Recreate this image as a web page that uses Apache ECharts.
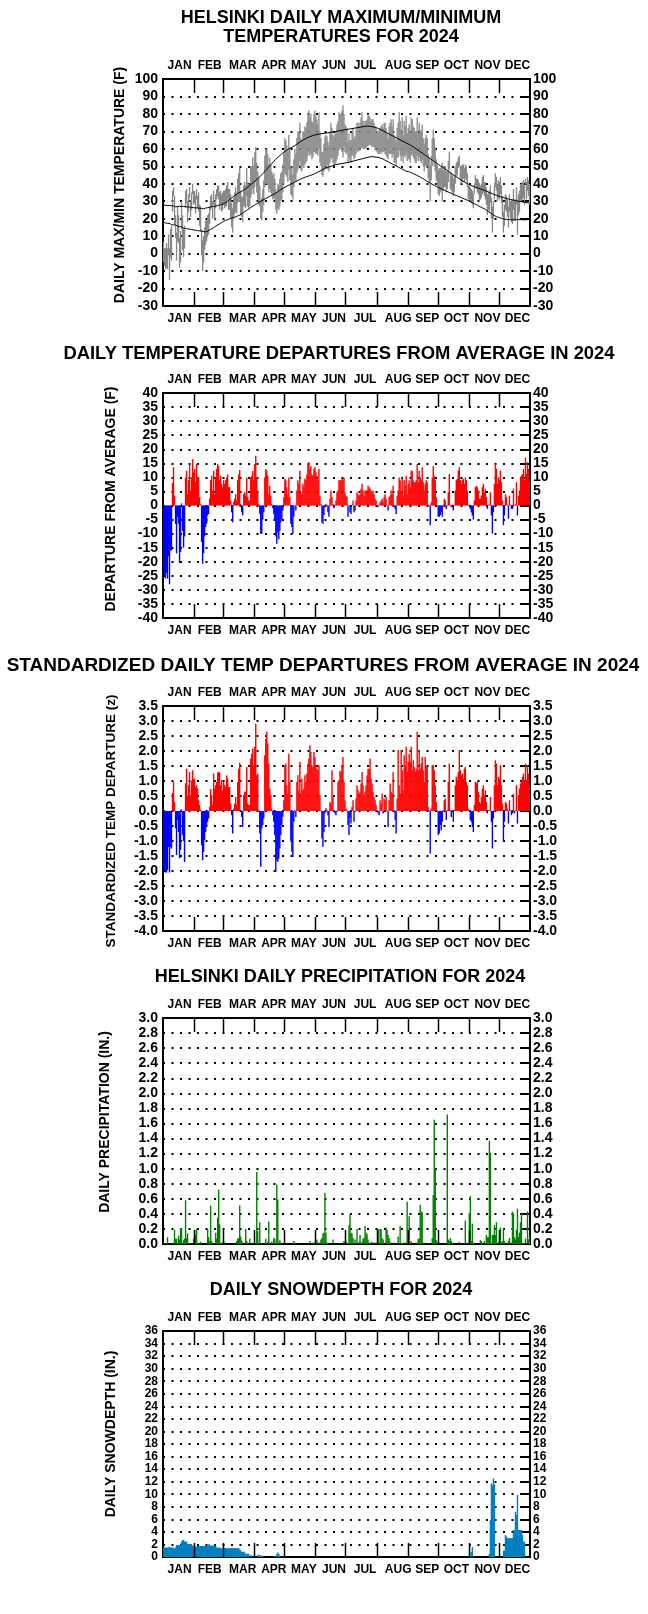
<!DOCTYPE html>
<html><head><meta charset="utf-8">
<script src="https://cdn.jsdelivr.net/npm/echarts@6/dist/echarts.min.js"></script>
<style>html,body{margin:0;padding:0;background:#fff}#c{width:648px;height:1614px}</style>
</head><body><div id="c"></div>
<script>
// ---------- DATA ----------
const monthNames = ['JAN','FEB','MAR','APR','MAY','JUN','JUL','AUG','SEP','OCT','NOV','DEC'];
const monthStart = [0,31,60,91,121,152,182,213,244,274,305,335];
const monthLabelDay = [16,46,79,110,140,170,201,234,263,292,323,353];

const normMax = [
28,27.8,27.6,27.9,27.5,27.3,27.6,27.2,27.4,27,27.3,27.1,26.8,27.2,27,26.9,27.1,26.7,27,26.8,27,26.6,26.9,26.5,26.7,26.4,26.6,26.2,26.5,26.1,26.3,
26,26.2,25.9,26.1,25.8,26,25.7,25.9,26,25.6,26,26.1,25.8,26.3,26.2,26.5,26.4,26.8,26.6,27,26.9,27.2,27.1,27.5,27.4,27.8,27.7,28.1,28.3,
28.6,28.9,29.2,29.6,30.1,30.5,31,31.4,31.9,32.3,32.8,33.2,33.6,34,34.5,34.8,35.1,35.4,35.7,36,36.4,36.8,37.2,37.6,38.1,38.6,39,39.5,40,40.4,40.9,
41.4,41.9,42.4,42.9,43.4,44,44.6,45.2,45.8,46.4,47,47.7,48.4,49,49.7,50.3,51,51.6,52.2,52.9,53.5,54,54.6,55.1,55.6,56.1,56.6,57.1,57.6,58.1,
58.5,58.9,59.3,59.7,60,60.3,60.6,60.9,61.2,61.5,61.9,62.3,62.7,63.1,63.5,63.9,64.3,64.7,65,65.3,65.6,65.9,66.2,66.5,66.8,67,67.2,67.4,67.6,67.8,68,
68.1,68.2,68.3,68.4,68.5,68.6,68.7,68.8,68.9,69,69,69.1,69.2,69.3,69.4,69.5,69.6,69.7,69.8,69.9,70,70.1,70.2,70.3,70.4,70.5,70.6,70.7,70.8,70.9,
71,71.1,71.2,71.3,71.4,71.5,71.6,71.7,71.8,71.9,72,72.1,72.2,72.3,72.4,72.5,72.6,72.7,72.8,72.9,73,73,73,72.9,72.9,72.8,72.7,72.6,72.5,72.4,72.2,
72,71.8,71.5,71.2,70.9,70.6,70.3,70,69.7,69.4,69.1,68.8,68.5,68.2,67.9,67.6,67.3,67,66.7,66.4,66.1,65.8,65.5,65.2,64.9,64.6,64.3,64,63.7,63.4,63.1,
62.8,62.5,62.2,61.9,61.5,61.2,60.8,60.4,60,59.6,59.2,58.8,58.4,58,57.6,57.2,56.8,56.4,56,55.6,55.2,54.8,54.4,54,53.6,53.2,52.8,52.4,52,51.6,
51.2,50.8,50.4,50,49.6,49.2,48.8,48.4,48,47.6,47.2,46.8,46.4,46,45.6,45.2,44.8,44.4,44,43.6,43.2,42.8,42.4,42,41.6,41.3,41,40.7,40.4,40.1,39.8,
39.5,39.2,38.9,38.7,38.5,38.3,38.1,37.9,37.7,37.5,37.3,37.1,36.9,36.7,36.5,36.3,36.1,35.8,35.6,35.3,35.1,34.8,34.6,34.3,34.1,33.8,33.6,33.4,33.2,33,
32.8,32.6,32.4,32.3,32.1,31.9,31.8,31.6,31.5,31.3,31.2,31,30.9,30.8,30.6,30.5,30.4,30.3,30.2,30,29.9,29.8,29.7,29.6,29.5,29.4,29.3,29.2,29.1,29,28.9];

const normMin = [
18.3,18,17.6,17.9,17.2,17,17.3,16.8,16.6,16.9,16.4,16.1,16.5,15.9,15.7,16,15.4,15.2,15.5,14.9,14.5,14.8,14.4,14.6,14.2,14.4,14,14.3,13.8,14.1,13.5,
13.8,13.4,13.6,13.2,13.5,13,13.3,12.9,13.1,12.6,11.6,12.5,13,12.8,13.3,13.6,13.9,14.2,14.5,14.9,15.3,15.7,16.1,16.4,16.8,17.1,17.5,17.8,18.2,
18.5,18.8,19,19.3,19.5,19.7,19.9,20.1,20.3,20.5,20.7,20.9,21.1,21.4,21.6,21.8,22,22.4,22.8,23.2,23.6,24,24.4,24.8,25.2,25.6,26,26.4,26.8,27.1,27.5,
27.9,28.2,28.6,28.9,29.3,29.6,30,30.3,30.7,31,31.3,31.6,31.9,32.2,32.5,32.8,33.1,33.4,33.6,33.9,34.3,34.7,35.1,35.5,35.9,36.3,36.7,37,37.4,37.7,
38,38.3,38.6,38.9,39.2,39.5,39.8,40.1,40.4,40.7,41,41.3,41.6,41.9,42.2,42.5,42.8,43.1,43.3,43.5,43.7,43.9,44.1,44.3,44.5,44.7,44.9,45.1,45.3,45.5,45.8,
46.1,46.4,46.7,47,47.3,47.6,47.9,48.2,48.5,48.8,49,49.2,49.4,49.6,49.8,50,50.2,50.4,50.6,50.8,51,51.1,51.2,51.3,51.4,51.5,51.6,51.7,51.8,51.9,
52,52.1,52.2,52.4,52.5,52.7,52.8,53,53.1,53.3,53.4,53.6,53.7,53.9,54,54.2,54.3,54.5,54.6,54.8,54.9,55.1,55.2,55.3,55.4,55.5,55.5,55.5,55.4,55.4,55.3,
55.2,55.1,55,54.8,54.6,54.4,54.1,53.8,53.5,53.2,52.9,52.6,52.3,52,51.7,51.4,51.1,50.8,50.5,50.2,49.9,49.6,49.3,49,48.7,48.4,48.1,47.8,47.5,47.2,46.9,
47,46.8,46.6,46.3,46.1,45.8,45.6,45.3,45,44.7,44.4,44.1,43.8,43.5,43.2,42.8,42.5,42.1,41.8,41.4,41.1,40.7,40.4,40,39.7,39.4,39.1,38.8,38.5,38.2,
37.9,37.6,37.4,37.1,36.8,36.6,36.3,36,35.8,35.5,35.3,35,34.8,34.5,34.3,34,33.8,33.5,33.3,33,32.8,32.5,32.3,32,31.8,31.5,31.3,31,30.8,30.6,30.4,
30.1,29.8,29.5,29.2,28.9,28.6,28.3,28,27.7,27.4,27.1,26.8,26.5,26.2,26,25.7,25.3,24.9,24.5,24.1,23.7,23.3,22.9,22.5,22.1,21.8,21.5,21.2,21,20.8,
20.6,20.4,20.2,20,19.9,19.8,19.7,19.6,19.5,19.5,19.4,19.4,19.4,19.3,19.3,19.3,19.4,19.4,19.4,19.5,19.5,19.5,19.4,19.4,19.3,19.3,19.4,19.4,19.5,19.5,19.4];

const tMax = [
7,3,3,6,3,11,3,14,16,36,38,33,22,12,27,22,9,13,30,22,14,16,36,37,30,34,38,31,35,40,36,
36,33,37,33,35,28,27,14,8,10,15,19,19,22,23,27,33,34,30,36,29,34,37,39,39,35,36,34,35,
36,36,37,39,41,37,37,34,29,26,32,35,38,35,43,46,49,36,33,32,39,41,39,49,41,40,39,50,50,55,50,
58,61,52,47,44,39,31,32,37,42,56,60,60,57,51,55,51,47,45,46,43,37,35,40,39,43,46,47,51,58,
66,65,62,59,68,60,50,49,45,54,60,57,66,70,70,75,66,65,70,70,73,72,75,80,82,78,80,76,75,80,82,
79,77,74,81,70,66,58,58,63,67,68,67,64,62,70,75,72,68,67,69,70,74,76,81,80,80,82,85,80,74,
73,72,64,69,65,65,70,72,66,67,71,75,75,73,75,78,81,76,74,76,76,77,80,79,78,76,77,77,75,73,72,
70,69,71,72,73,74,72,75,75,72,69,66,73,75,77,73,77,68,66,64,72,75,81,76,71,78,68,76,73,79,69,
72,74,70,78,77,73,72,70,70,78,69,75,71,70,74,66,63,66,68,66,57,55,50,56,66,71,66,61,54,51,
48,49,49,50,52,48,50,50,47,47,53,58,47,46,45,43,45,50,52,53,55,56,50,50,51,51,49,51,50,46,39,
39,38,37,36,34,40,45,43,43,42,40,39,40,44,45,41,41,38,34,35,36,39,32,27,30,39,46,44,40,42,
41,44,39,33,24,28,34,33,31,27,34,30,30,31,37,31,31,38,31,34,36,40,40,41,42,39,43,41,44,42,40];

const tMin = [
-5,-7,-9,-8,-9,-1,-15,-2,-4,24,33,17,9,-4,7,6,-8,-5,14,2,-2,3,26,29,18,24,32,21,25,34,28,
29,23,31,26,24,16,13,-1,-10,-5,2,5,7,10,11,17,25,27,20,28,19,26,31,33,31,25,28,24,25,
28,26,27,27,31,25,25,20,15,12,20,23,24,23,29,30,31,22,21,18,27,27,26,33,27,26,27,32,34,37,34,
38,41,35,31,28,27,20,19,24,28,38,40,40,39,35,37,35,33,31,32,31,25,23,26,25,27,30,31,35,40,
46,45,44,41,48,42,34,33,31,38,42,41,46,48,50,53,48,47,50,49,51,52,53,56,58,56,57,54,55,58,58,
57,57,56,60,52,50,45,44,47,49,50,51,48,47,52,55,54,52,50,51,52,54,56,59,60,60,58,55,61,58,
57,58,52,55,53,52,56,56,54,55,57,59,58,59,59,60,61,60,60,60,60,61,62,62,62,62,61,61,61,59,60,
58,57,57,58,57,58,58,59,57,56,55,54,57,57,57,55,57,52,52,50,55,55,59,56,53,56,52,56,55,57,53,
54,54,52,56,57,55,54,52,52,56,53,55,53,52,54,50,47,50,50,50,43,41,30,42,50,53,50,47,42,39,
34,33,35,36,30,36,38,38,35,37,41,48,37,36,35,33,35,40,44,45,49,50,42,40,41,43,41,43,42,38,31,
31,30,29,28,26,34,39,37,35,34,30,31,32,34,35,33,31,28,22,25,24,29,20,12,20,31,38,36,30,32,
31,34,29,21,12,16,25,24,21,15,24,20,18,17,25,19,19,28,11,22,24,30,30,31,32,28,40,31,36,33,28];

const departure = [
-22,-25,-26,-24,-26,-18,-28,-16,-16,8,13.6,3.5,-6.5,-17,-4,-6.5,-20.5,-16.5,0.8,-9,-15,-11,10,12.4,4,9,14.8,5.3,10,16.5,11.8,
13,8.3,14.8,10,10,3,0.5,-13,-20.7,-17,-11,-7.7,-6.5,-3.5,-3,2.4,9,10.6,5.3,12.4,4,10,13,14.8,14,9,10.6,7.7,6.5,
9,7.7,9,10,11,6.5,6.5,1.8,-2.4,-6,1.2,2.4,4,1.8,9,11,12.6,0.5,-2.4,-3.5,4,4.7,3.5,10,3,1.8,1.8,10,10.6,12.4,9,
14.8,17.7,10,5.3,0.5,-3,-10,-10,-5,-2.4,10,13,12.4,10.6,4,7,3.5,0.5,-1,-3,-5,-11,-13.6,-9.5,-12,-9,-6,-5,-1.8,3,
9.5,9,6.5,4,10,3,-6.5,-7.7,-10,-4,0.3,-1.8,5.3,9,7.7,12.4,4.7,4,7.7,6.5,9.5,9,11,14.8,15.4,13,14,11,10.6,13,13.6,
11.8,10.6,9,13,3.5,0.5,-6,-6.5,-3.5,-0.6,0.6,0.3,-2.4,-4,2.4,5.3,3,0.5,-1,0.3,1.8,4.7,5.3,9,9,9,9.5,9,10,4.7,
3.5,3,-4,0.3,-2.4,-3,0.3,1.8,-2.4,-1.8,1.8,4.7,4,3.5,4,6,7.7,5.3,3.5,5.3,5.3,5.3,7,6.5,6,5.3,4.7,5.3,4,2.4,1.8,
0.3,-0.6,0.3,1.2,1.8,2.4,1.2,3,4,2.4,0.3,-1.8,3,3.5,5.3,4,7,0.3,-1.2,-3,3.5,5.3,10,9,5.3,10,3.5,9,7,10.6,4,
7.7,9,6.5,12.4,12.4,9,8.3,8.3,9,14.8,8.3,12.4,10,9,13.6,8.3,5.3,7.7,9,8.3,0.3,0.3,-7,1.2,10,14,10.6,9,3,0.3,
-4,-4,-3.5,-2.4,-4,0.3,2.4,1.8,-1.2,0.3,4.7,11.2,0.3,-0.6,0.3,-1.8,0.3,5.3,9,9.5,12.4,13.6,9,7.7,9,9.5,7.7,10,9,5.3,0.3,
0.3,-1.2,-2.4,-3.5,-5,1.8,6.5,7,6.5,5.3,2.4,2.4,3.5,6.5,7.7,4.7,6,3,-1.2,0.3,0.3,4.7,-3.5,-10,-2.4,7.7,14.8,13,7.7,10,
9,12.4,8.3,1.8,-7,-3.5,4,3,0.3,-4.7,3.5,0.3,-1.2,-1.2,6,0.3,0.3,8.3,-3.5,3.5,5.3,10,10.6,11.2,13,9,17,11.2,15.4,13,9];

const zDeparture = [
-1.9,-2,-2.05,-2.05,-1.97,-1.2,-2.05,-1.2,-1.25,0.6,0.97,0.3,-0.58,-1.47,-0.3,-0.7,-1.58,-1.3,0.06,-0.8,-1,-1.7,0.92,1.41,0.5,0.86,1.3,0.5,1,1.36,1.05,
1.08,0.8,0.86,0.75,0.36,0.2,0.05,-1.14,-1.64,-1.36,-0.97,-0.7,-0.47,-0.36,-0.25,0.14,0.73,0.53,0.2,1.25,0.75,0.86,0.97,1.28,1.3,1.28,0.86,1.03,0.69,
0.97,0.86,0.8,1.19,1.08,0.8,0.8,0.25,-0.14,-0.75,0.08,0.25,0.47,0.2,0.97,1.41,1.61,0.03,-0.2,-0.53,0.53,0.64,0.64,1.47,0.25,0.2,0.2,1.75,1.91,2.08,1.53,
2.14,2.91,1.19,1.25,0.03,-0.75,-1.86,-0.58,-0.47,-0.25,1.86,2.41,2.64,2.25,1.58,0.75,0.53,0.08,-0.14,-0.36,-0.8,-2.03,-1.64,-1.69,-1.58,-1.25,-0.8,-0.47,-0.2,0.36,
1.53,1.58,0.86,0.58,1.91,0.97,-0.97,-1.36,-1.53,-0.36,0.03,-0.2,0.97,1.19,0.69,1.64,0.58,1.08,0.69,0.75,1.19,0.97,1.25,1.58,1.75,2.19,1.97,1.53,1.47,1.97,1.8,
1.53,1.41,1.36,1.53,0.53,0.03,-0.92,-1.19,-0.7,-0.08,0.1,0.03,-0.14,-0.53,0.3,0.25,1.36,0.47,0.03,-0.08,-0.14,-0.03,0.97,1.03,1.33,1.3,1.53,1.8,0.97,0.36,
0.08,0.03,-0.47,-0.8,-0.25,-0.42,0.14,0.36,-0.36,-0.03,0.42,0.86,0.69,0.58,0.64,0.92,1.3,0.86,0.53,0.64,0.86,1.19,1.41,1.41,1.75,1.08,0.92,0.64,0.47,0.36,0.2,
0.03,-0.08,-0.14,0.36,0.25,0.58,-0.08,0.42,0.36,0.47,0.03,-0.53,0.36,0.92,0.64,0.58,1.3,0.03,-0.3,-0.75,0.42,2.03,0.86,0.58,2.03,1.36,0.69,1.86,1.53,2.14,1.3,
1.64,1.91,1.64,2.14,1.36,1.69,1.47,1.3,1.41,2.64,1.36,2.03,1.41,1.58,1.8,1.36,0.97,1.8,1.47,1.47,0.14,0.03,-1.42,0.08,1.53,1.53,1.36,0.86,0.3,0.03,
-0.8,-0.75,-0.47,-0.64,-0.36,0.03,0.36,0.42,-0.3,0.03,0.97,1.58,0.03,-0.2,0.03,-0.36,0.03,0.86,1.14,1.03,1.3,2.03,1.36,1.19,1.25,1.08,1.41,1.47,0.97,0.86,0.08,
0.03,-0.3,-0.36,-0.53,-0.7,0.2,0.97,0.92,0.97,0.64,0.3,0.25,0.47,0.75,0.86,0.53,0.69,0.3,-0.08,0.03,0.03,0.47,-0.36,-1.25,-0.25,0.86,1.69,1.58,0.86,1.14,
1.08,1.53,0.86,0.25,-1.03,-0.36,0.3,0.25,0.08,-0.42,0.36,0.03,-0.14,-0.08,0.58,-0.08,0.03,0.86,-0.42,0.53,0.75,0.92,1.03,1.14,1.25,1.03,1.58,1.03,1.53,1.25,0.92];

// [day of year (0 = Jan 1), inches] for days with measurable precipitation
const precipObs = [[1,0.01],[2,0.01],[3,0.01],[4,0.09],[8,0.01],[11,0.19],[12,0.07],[13,0.07],[15,0.11],[16,0.06],[17,0.21],[18,0.21],[20,0.05],[21,0.07],[22,0.58],[23,0.08],[24,0.14],[26,0.01],[27,0.01],[30,0.07],
[31,0.18],[32,0.12],[33,0.2],[35,0.01],[37,0.03],[38,0.01],[44,0.2],[45,0.09],[46,0.04],[47,0.51],[48,0.04],[49,0.01],[52,0.15],[53,0.07],[54,0.35],[55,0.72],[56,0.26],[57,0.01],[58,0.02],
[60,0.04],[61,0.02],[73,0.04],[74,0.07],[75,0.08],[76,0.51],[77,0.1],[78,0.04],[82,0.2],[83,0.04],[86,0.07],[90,0.01],
[92,0.01],[93,0.96],[94,0.17],[96,0.29],[98,0.01],[102,0.07],[104,0.03],[105,0.3],[108,0.03],[110,0.08],[111,0.07],[113,0.79],[114,0.59],[116,0.05],[117,0.02],
[130,0.04],[131,0.02],[134,0.01],[146,0.04],[150,0.02],
[153,0.06],[155,0.02],[157,0.06],[158,0.08],[159,0.14],[160,0.15],[161,0.68],[162,0.15],[163,0.02],[169,0.06],[175,0.01],[180,0.04],[181,0.02],
[182,0.03],[183,0.01],[185,0.25],[186,0.39],[187,0.15],[188,0.14],[189,0.08],[191,0.06],[193,0.2],[195,0.03],[196,0.12],[198,0.03],[199,0.07],[200,0.08],[201,0.24],[202,0.15],[203,0.13],[204,0.06],[206,0.02],[208,0.03],[210,0.02],
[214,0.2],[216,0.2],[217,0.2],[218,0.08],[219,0.06],[222,0.22],[223,0.19],[224,0.12],[225,0.08],[226,0.03],[230,0.02],[234,0.1],[236,0.24],[238,0.01],[241,0.02],[243,0.56],
[244,0.19],[245,0.37],[247,0.04],[250,0.01],[253,0.02],[254,0.07],[255,0.07],[256,0.52],[257,0.43],[258,0.42],[260,0.02],[265,0.01],[268,0.08],[269,0.65],[270,1.65],[271,1.0],[272,0.05],
[274,0.03],[283,1.72],[284,0.06],[285,0.04],[286,0.08],[287,0.04],[288,0.02],[295,0.03],[301,0.31],[304,0.02],
[305,0.41],[306,0.64],[307,0.04],[308,0.27],[309,0.02],[316,0.05],[317,0.04],[320,0.04],[321,0.01],[322,0.12],[323,0.09],[324,0.09],[325,1.37],[326,1.21],[327,0.01],[328,0.12],[329,0.12],[330,0.25],[331,0.12],[332,0.29],[334,0.02],
[335,0.1],[336,0.22],[338,0.04],[339,0.2],[340,0.04],[344,0.04],[345,0.08],[347,0.02],[348,0.43],[349,0.4],[350,0.09],[351,0.06],[352,0.19],[353,0.47],[354,0.09],[355,0.15],[356,0.29],[357,0.4],[358,0.01],[360,0.01],[361,0.07],[363,0.43],[364,0.06],[365,0.11]];

// [day of year, inches] for days with snow on the ground
const snowObs = [[0,1.5],[1,1.5],[2,1.5],[3,1.5],[4,1.5],[5,1.5],[6,1.65],[7,1.5],[8,1.5],[9,1.5],[10,1.5],[11,1.3],[12,1.5],[13,1.9],[14,1.9],[15,1.9],[16,1.9],[17,1.9],[18,2.45],[19,2.7],[20,2.7],[21,2.45],[22,2.45],[23,2.45],[24,2.07],[25,2.07],[26,2.07],[27,2.07],[28,2.07],[29,1.8],[30,1.8],
[31,1.8],[32,1.65],[33,1.65],[34,1.75],[35,1.75],[36,1.75],[37,1.75],[38,1.75],[39,1.75],[40,1.75],[41,1.75],[42,1.75],[43,1.75],[44,1.75],[45,2],[46,2],[47,1.8],[48,1.8],[49,1.8],[50,1.8],[51,1.8],[52,1.8],[53,1.5],[54,1.5],[55,1.5],[56,1.5],[57,1.4],[58,1.4],[59,1.4],
[60,1.4],[61,1.4],[62,1.4],[63,1.4],[64,1.4],[65,1.4],[66,1.4],[67,1.4],[68,1.4],[69,1.4],[70,1.4],[71,1.4],[72,1.4],[73,1.4],[74,1.4],[75,1.4],[76,1.2],[77,1.05],[78,0.85],[79,0.85],[80,0.85],[81,0.7],[82,0.5],[83,0.5],[84,0.5],[85,0.5],[87,0.27],[88,0.27],
[94,0.3],[95,0.3],[96,0.3],[97,0.2],[98,0.2],[99,0.2],[111,0.15],[113,0.45],[114,0.7],[115,0.5],[116,0.2],
[307,0.8],[308,1.6],[325,0.5],[326,5.9],[327,11.7],[328,11.4],[329,12.5],[330,11.6],
[339,1],[340,1],[341,3.5],[342,3.25],[343,3],[344,3],[345,3],[346,3],[347,3],[348,3],[349,4.3],[350,4.3],[351,7.2],[352,6.7],[353,9.9],[354,4.3],[355,4.3],[356,4.3],[357,4.3],[358,3.5],[359,2.45],[360,2.45]];

// ---------- TABLES BUILT FROM DATA ----------
const N = 366;
const days = Array.from({length: N}, (_, i) => String(i));
const precipFull = new Array(N).fill(0);
precipObs.forEach(([d, v]) => { precipFull[d] = v; });
const snowFull = new Array(N).fill(0);
snowObs.forEach(([d, v]) => { snowFull[d] = v; });
const tempRange = days.map((d, i) => [i, tMax[i], tMin[i]]);

// ---------- LAYOUT ----------
const FONT = "'Liberation Sans', Arial, sans-serif";
const GL = 163, GW = 367, TICK = 14;
const panels = [
  {top: 79, h: 227, min: -30, max: 100, step: 10, dec: 0, fs: 14},
  {top: 393, h: 225, min: -40, max: 40, step: 5, dec: 0, fs: 14},
  {top: 706, h: 225, min: -4, max: 3.5, step: 0.5, dec: 1, fs: 14},
  {top: 1018, h: 226, min: 0, max: 3, step: 0.2, dec: 1, fs: 14},
  {top: 1331, h: 226, min: 0, max: 36, step: 2, dec: 0, fs: 12}
];

const grids = [], xAxes = [], yAxes = [], tickSeries = [];
panels.forEach((p, gi) => {
  grids.push({left: GL, top: p.top, width: GW, height: p.h, show: true, borderColor: '#000', borderWidth: 2, backgroundColor: 'transparent'});
  ['bottom', 'top'].forEach(pos => {
    xAxes.push({
      type: 'category', gridIndex: gi, position: pos, data: days, boundaryGap: true,
      axisLine: {show: false, onZero: false},
      axisTick: {show: false},
      axisLabel: {show: true, interval: (i) => monthLabelDay.indexOf(i) >= 0,
        formatter: (v, i) => monthNames[monthLabelDay.indexOf(i)] || '',
        margin: 7, fontSize: 12, fontWeight: 'bold', color: '#000', fontFamily: FONT},
      splitLine: {show: false}
    });
  });
  const fmt = v => p.dec ? v.toFixed(p.dec) : String(Math.round(v));
  yAxes.push({
    type: 'value', gridIndex: gi, position: 'left', min: p.min, max: p.max, interval: p.step,
    axisLine: {show: false, onZero: false}, axisTick: {show: false},
    axisLabel: {margin: 5, fontSize: p.fs, fontWeight: 'bold', color: '#000', fontFamily: FONT, formatter: fmt,
      showMinLabel: true, showMaxLabel: true, hideOverlap: false},
    splitLine: {show: true, lineStyle: {type: [2, 6.5], color: '#000', width: 2}}
  });
  yAxes.push({
    type: 'value', gridIndex: gi, position: 'right', min: p.min, max: p.max, interval: p.step,
    axisLine: {show: false, onZero: false},
    axisTick: {show: true, inside: true, length: 8, lineStyle: {color: '#000', width: 2}},
    axisLabel: {margin: 3, fontSize: p.fs, fontWeight: 'bold', color: '#000', fontFamily: FONT, formatter: fmt,
      showMinLabel: true, showMaxLabel: true, hideOverlap: false},
    splitLine: {show: false}
  });
  // month boundary tick marks at top and bottom of each panel, placed through the x scale
  tickSeries.push({
    type: 'custom', xAxisIndex: 2 * gi, yAxisIndex: 2 * gi, z: 20, silent: true,
    data: monthStart.slice(1).map(d => [d, p.min]), encode: {x: 0, y: 1},
    renderItem: (params, api) => {
      const c = api.coord([api.value(0), api.value(1)]);
      const w = api.size([1, 0])[0];
      const x = Math.round(c[0] - w / 2) + 0.5;
      const cs = params.coordSys;
      return {type: 'group', children: [
        {type: 'line', shape: {x1: x, y1: cs.y, x2: x, y2: cs.y + TICK}, style: {stroke: '#000', lineWidth: 1.5}},
        {type: 'line', shape: {x1: x, y1: cs.y + cs.height, x2: x, y2: cs.y + cs.height - TICK}, style: {stroke: '#000', lineWidth: 1.5}}
      ]};
    }
  });
});

const signColor = (p) => (p.value >= 0 ? '#ff0000' : '#0000ff');

const series = [
  {
    type: 'custom', xAxisIndex: 0, yAxisIndex: 0, data: tempRange, encode: {x: 0, y: [1, 2]}, z: 2,
    renderItem: (params, api) => {
      const i = api.value(0);
      const a = api.coord([i, api.value(1)]);
      const b = api.coord([i, api.value(2)]);
      const w = Math.max(api.size([1, 0])[0], 1) * 1.3;
      return {type: 'rect', shape: {x: a[0] - w / 2, y: a[1], width: w, height: Math.max(b[1] - a[1], 1)},
        style: {fill: '#878787'}};
    }
  },
  {type: 'line', xAxisIndex: 0, yAxisIndex: 0, data: normMax, showSymbol: false, z: 5,
    lineStyle: {color: '#000', width: 1}},
  {type: 'line', xAxisIndex: 0, yAxisIndex: 0, data: normMin, showSymbol: false, z: 5,
    lineStyle: {color: '#000', width: 1}},
  {type: 'bar', xAxisIndex: 2, yAxisIndex: 2, data: departure, barWidth: 1.4, itemStyle: {color: signColor}},
  {type: 'bar', xAxisIndex: 4, yAxisIndex: 4, data: zDeparture, barWidth: 1.4, itemStyle: {color: signColor}},
  {type: 'bar', xAxisIndex: 6, yAxisIndex: 6, data: precipFull, barWidth: 1.4, itemStyle: {color: '#008000'}},
  {type: 'bar', xAxisIndex: 8, yAxisIndex: 8, data: snowFull, barWidth: 1.4, itemStyle: {color: '#0080c0'}}
].concat(tickSeries);

const titleText = (t, x, y, fs) => ({type: 'text', x: x, y: y, silent: true,
  style: {text: t, fill: '#000', font: 'bold ' + (fs || 18) + 'px ' + FONT, textAlign: 'center', textVerticalAlign: 'middle'}});
const nameText = (t, x, y, fs) => ({type: 'text', x: x, y: y, rotation: Math.PI / 2, silent: true,
  style: {text: t, fill: '#000', font: 'bold ' + (fs || 14) + 'px ' + FONT, textAlign: 'center', textVerticalAlign: 'middle'}});

const graphics = [
  titleText('HELSINKI DAILY MAXIMUM/MINIMUM', 341, 18),
  titleText('TEMPERATURES FOR 2024', 341, 37),
  titleText('DAILY TEMPERATURE DEPARTURES FROM AVERAGE IN 2024', 339, 354, 18.4),
  titleText('STANDARDIZED DAILY TEMP DEPARTURES FROM AVERAGE IN 2024', 323, 666, 19),
  titleText('HELSINKI DAILY PRECIPITATION FOR 2024', 340, 977),
  titleText('DAILY SNOWDEPTH FOR 2024', 341, 1290),
  nameText('DAILY MAX/MIN TEMPERATURE (F)', 120, 185, 14),
  nameText('DEPARTURE FROM AVERAGE (F)', 111, 499, 14),
  nameText('STANDARDIZED TEMP DEPARTURE (z)', 111, 821, 13.5),
  nameText('DAILY PRECIPITATION (IN.)', 105, 1122, 14),
  nameText('DAILY SNOWDEPTH (IN.)', 111, 1434, 14)
];

const chart = echarts.init(document.getElementById('c'), null, {renderer: 'canvas'});
chart.setOption({
  backgroundColor: '#ffffff',
  animation: false,
  grid: grids, xAxis: xAxes, yAxis: yAxes, series: series, graphic: graphics
});
</script></body></html>
